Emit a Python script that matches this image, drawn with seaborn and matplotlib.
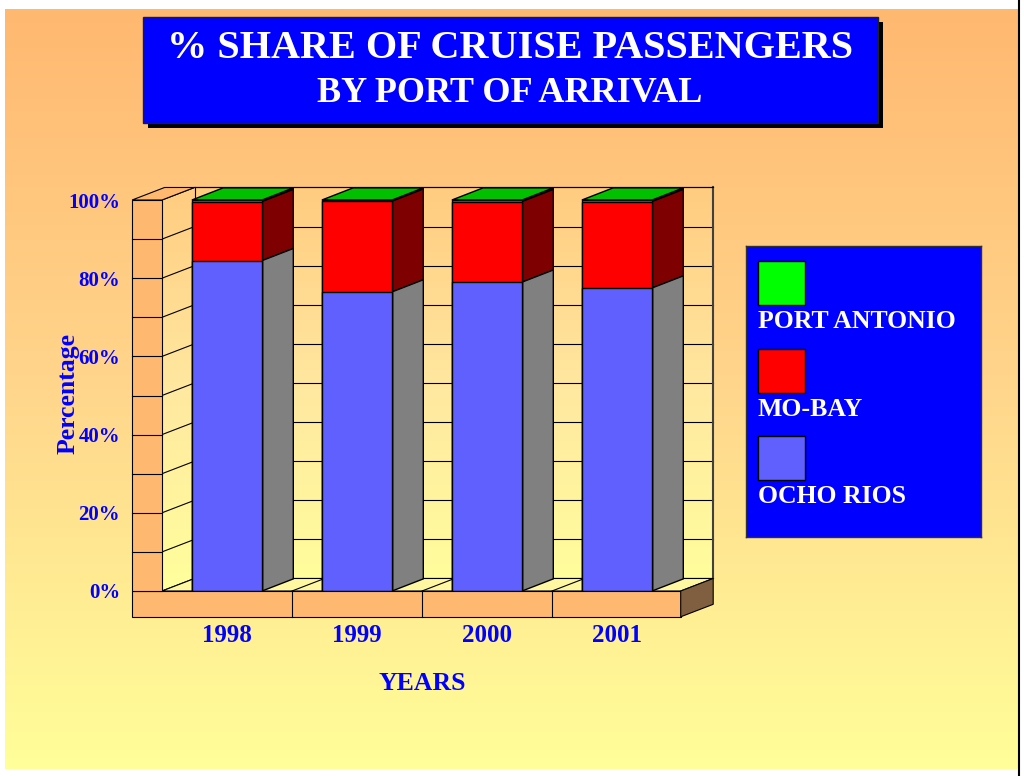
#!/usr/bin/env python3
# -*- coding: utf-8 -*-
"""
plot.py
=======
3D-looking 100% stacked bar chart: share of cruise passengers by port.
"""

import numpy as np
import matplotlib
matplotlib.use("Agg")
import matplotlib.pyplot as plt
from matplotlib.patches import Polygon, Rectangle
from matplotlib.colors import LinearSegmentedColormap
import seaborn as sns

# ---------------------------------------------------------------------------
# Data
# ---------------------------------------------------------------------------
years = ["1998", "1999", "2000", "2001"]
ocho_rios = [84.5, 76.5, 79.0, 77.5]
mo_bay = [15.1, 23.2, 20.6, 22.1]
port_antonio = [0.4, 0.3, 0.4, 0.4]

series_names = ["PORT ANTONIO", "MO-BAY", "OCHO RIOS"]
y_ticks = [0, 20, 40, 60, 80, 100]
y_tick_labels = ["0%", "20%", "40%", "60%", "80%", "100%"]

# ---------------------------------------------------------------------------
# Styling
# ---------------------------------------------------------------------------
FONT = ["Liberation Serif", "DejaVu Serif"]
TXT_BLUE = "#0000FF"
FRONT = {"OCHO RIOS": "#6060FF", "MO-BAY": "#FF0000", "PORT ANTONIO": "#00C000"}
SIDE = {"OCHO RIOS": "#808080", "MO-BAY": "#7F0000", "PORT ANTONIO": "#008000"}
LEGEND_SWATCH = {"PORT ANTONIO": "#00FF00", "MO-BAY": "#FF0000", "OCHO RIOS": "#6060FF"}
WALL_ORANGE = "#FFB870"
BAR_W = 0.54
DX, DY = 0.24, 3.1          # depth offset (category units, percent)
WDX, WDY = 0.25, 3.2        # depth of the walls

plt.rcParams["font.family"] = FONT

W, H = 1024, 776
fig = plt.figure(figsize=(W / 100, H / 100), dpi=100)

# ===========================================================================
# Background (pixel coordinates)
# ===========================================================================
bg = fig.add_axes([0, 0, 1, 1])
bg.set_xlim(0, W)
bg.set_ylim(H, 0)
bg.axis("off")

bg_cmap = LinearSegmentedColormap.from_list("bg", ["#FFB870", "#FFD68C", "#FFFF99"])
grad = np.linspace(0, 1, 256)[:, None]
bg.imshow(grad, cmap=bg_cmap, extent=(5, 1019, 769, 9), aspect="auto", zorder=0)
bg.plot([1019, 1019], [0, H], color="black", lw=1.5, zorder=1)

# title box with drop shadow
bg.add_patch(Rectangle((148, 22), 735, 106, facecolor="black", zorder=2))
bg.add_patch(Rectangle((143, 17), 735, 106, facecolor="#0000FF",
                       edgecolor="#202020", lw=1, zorder=3))
bg.text(510, 58, "% SHARE OF CRUISE PASSENGERS", color="white", fontsize=29,
        fontweight="bold", ha="center", va="baseline", zorder=4)
bg.text(510, 102, "BY PORT OF ARRIVAL", color="white", fontsize=26,
        fontweight="bold", ha="center", va="baseline", zorder=4)

# axis titles
bg.text(68, 394, "Percentage", color=TXT_BLUE, fontsize=18.5, fontweight="bold",
        rotation=90, ha="center", va="center", zorder=5)
bg.text(422, 684, "YEARS", color=TXT_BLUE, fontsize=18.5, fontweight="bold",
        ha="center", va="center", zorder=5)

# ===========================================================================
# Main axes: x = category index, y = percent
# ===========================================================================
x0_px, x_unit = 227, 130
y0_px, y_unit = 591, 3.91
xlim = (-0.8, 3.85)
ylim = (-8, 106)
left = (x0_px + x_unit * xlim[0]) / W
right = (x0_px + x_unit * xlim[1]) / W
bottom = 1 - (y0_px - y_unit * ylim[0]) / H
top = 1 - (y0_px - y_unit * ylim[1]) / H
ax = fig.add_axes([left, bottom, right - left, top - bottom])
ax.patch.set_visible(False)

# --- walls / floor ---------------------------------------------------------
wall_x0, wall_x1 = -0.73, -0.5          # left wall front face
floor_x1 = 3.49
floor_y0 = -6.6

wall_cmap = LinearSegmentedColormap.from_list("wall", ["#FFCC80", "#FFE8A0", "#FFFF9C"])
back_poly = Polygon([(wall_x1, 0), (wall_x1 + WDX, WDY), (floor_x1 + WDX, WDY),
                     (floor_x1 + WDX, 100 + WDY), (wall_x1 + WDX, 100 + WDY),
                     (wall_x1, 100)], closed=True, fill=False, lw=0,
                    transform=ax.transData)
ax.add_patch(back_poly)
im = ax.imshow(grad, cmap=wall_cmap, aspect="auto", zorder=0.5,
               extent=(wall_x1, floor_x1 + WDX, 0, 100 + WDY), origin="upper")
im.set_clip_path(back_poly)

# back wall grid
for v in range(0, 101, 10):
    ax.plot([wall_x1 + WDX, floor_x1 + WDX], [v + WDY, v + WDY],
            color="black", lw=0.8, zorder=1)
    ax.plot([wall_x1, wall_x1 + WDX], [v, v + WDY], color="black", lw=0.8, zorder=1)
ax.plot([floor_x1 + WDX] * 2, [WDY, 100 + WDY], color="#404040", lw=1.5, zorder=1)
ax.plot([wall_x1 + WDX] * 2, [WDY, 100 + WDY], color="black", lw=0.8, zorder=1)

# floor top
ax.add_patch(Polygon([(wall_x1, 0), (floor_x1, 0), (floor_x1 + WDX, WDY),
                      (wall_x1 + WDX, WDY)], closed=True, facecolor="#FFF8A0",
                     edgecolor="black", lw=0.8, zorder=1.2))
for b in [0.5, 1.5, 2.5]:
    ax.plot([b, b + WDX], [0, WDY], color="black", lw=0.8, zorder=1.3)

# floor front + right side
ax.add_patch(Polygon([(wall_x0, floor_y0), (floor_x1, floor_y0), (floor_x1, 0),
                      (wall_x0, 0)], closed=True, facecolor=WALL_ORANGE,
                     edgecolor="black", lw=0.8, zorder=4))
ax.add_patch(Polygon([(floor_x1, floor_y0), (floor_x1 + WDX, floor_y0 + WDY),
                      (floor_x1 + WDX, WDY), (floor_x1, 0)], closed=True,
                     facecolor="#7F5F3F", edgecolor="black", lw=0.8, zorder=4))
for b in [0.5, 1.5, 2.5]:
    ax.plot([b, b], [floor_y0, 0], color="black", lw=0.8, zorder=4.1)

# left wall front face + top
ax.add_patch(Polygon([(wall_x0, 0), (wall_x1, 0), (wall_x1, 100), (wall_x0, 100)],
                     closed=True, facecolor=WALL_ORANGE, edgecolor="black",
                     lw=0.8, zorder=4))
ax.add_patch(Polygon([(wall_x0, 100), (wall_x1, 100), (wall_x1 + WDX, 100 + WDY),
                      (wall_x0 + WDX, 100 + WDY)], closed=True,
                     facecolor=WALL_ORANGE, edgecolor="black", lw=0.8, zorder=4))
ax.plot([wall_x1 + WDX, floor_x1 + WDX], [100 + WDY] * 2, color="black",
        lw=0.8, zorder=1)
for v in range(10, 100, 10):
    ax.plot([wall_x0, wall_x1], [v, v], color="black", lw=0.8, zorder=4.1)

# --- stacked bars (front faces through seaborn) ----------------------------
ocho = np.array(ocho_rios)
mob = np.array(mo_bay)
pa = np.array(port_antonio)
stack = [
    ("PORT ANTONIO", ocho + mob, ocho + mob + pa),
    ("MO-BAY", ocho, ocho + mob),
    ("OCHO RIOS", np.zeros_like(ocho), ocho),
]
for name, _, upper in stack:
    sns.barplot(x=years, y=upper, color=FRONT[name], width=BAR_W, saturation=1,
                edgecolor="black", linewidth=1, ax=ax, zorder=3)

# side and top faces derived from the seaborn bars
for (name, lower, upper), cont in zip(stack, ax.containers):
    for bar, lo, hi in zip(cont, lower, upper):
        xr = bar.get_x() + bar.get_width()
        ax.add_patch(Polygon([(xr, lo), (xr + DX, lo + DY), (xr + DX, hi + DY),
                              (xr, hi)], closed=True, facecolor=SIDE[name],
                             edgecolor="black", lw=1, zorder=2.9))
        if name == "PORT ANTONIO":
            xl = bar.get_x()
            ax.add_patch(Polygon([(xl, hi), (xr, hi), (xr + DX, hi + DY),
                                  (xl + DX, hi + DY)], closed=True,
                                 facecolor=FRONT[name], edgecolor="black",
                                 lw=1, zorder=2.9))

ax.set_xlim(*xlim)
ax.set_ylim(*ylim)
for s in ax.spines.values():
    s.set_visible(False)
ax.set_yticks(y_ticks)
ax.set_yticklabels(y_tick_labels)
ax.tick_params(length=0)
ax.tick_params(axis="y", pad=2)
ax.tick_params(axis="x", pad=1)
for lab in ax.get_yticklabels():
    lab.set(color=TXT_BLUE, fontsize=15, fontweight="bold")
for lab in ax.get_xticklabels():
    lab.set(color=TXT_BLUE, fontsize=18, fontweight="bold")
ax.set_xlabel("")
ax.set_ylabel("")

# ===========================================================================
# Legend box (pixel coordinates inside the box)
# ===========================================================================
lg = fig.add_axes([746 / W, 1 - 537 / H, 235 / W, 291 / H])
lg.set_xlim(0, 235)
lg.set_ylim(291, 0)
lg.set_facecolor("#0000FF")
lg.set_xticks([])
lg.set_yticks([])
for s in lg.spines.values():
    s.set_color("#303030")
    s.set_linewidth(1)
for i, name in enumerate(series_names):
    y_top = 15 + i * 87.5
    lg.add_patch(Rectangle((12, y_top), 47, 44, facecolor=LEGEND_SWATCH[name],
                           edgecolor="black", lw=1))
    lg.text(12, y_top + 67, name, color="white", fontsize=18.5, fontweight="bold",
            ha="left", va="baseline")

fig.savefig("out.png", dpi=100)
